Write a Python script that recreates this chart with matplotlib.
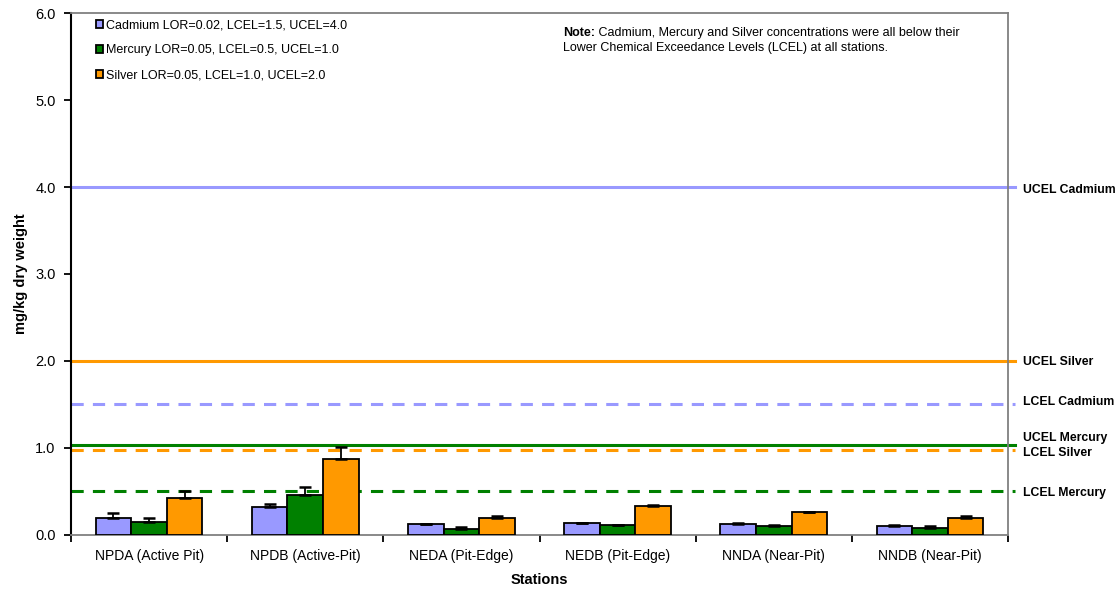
import matplotlib
matplotlib.use("Agg")
import matplotlib.pyplot as plt
import numpy as np

plt.rcParams['font.family'] = ['Liberation Sans', 'DejaVu Sans']

stations = ["NPDA (Active Pit)", "NPDB (Active-Pit)", "NEDA (Pit-Edge)",
            "NEDB (Pit-Edge)", "NNDA (Near-Pit)", "NNDB (Near-Pit)"]

cadmium = [0.20, 0.32, 0.125, 0.14, 0.13, 0.10]
cadmium_err = [0.05, 0.04, 0.0, 0.0, 0.01, 0.01]
mercury = [0.15, 0.46, 0.07, 0.11, 0.10, 0.085]
mercury_err = [0.05, 0.09, 0.02, 0.0, 0.01, 0.015]
silver = [0.43, 0.87, 0.20, 0.33, 0.26, 0.20]
silver_err = [0.08, 0.14, 0.02, 0.02, 0.0, 0.02]

series_labels = ["Cadmium LOR=0.02, LCEL=1.5, UCEL=4.0",
                 "Mercury LOR=0.05, LCEL=0.5, UCEL=1.0",
                 "Silver LOR=0.05, LCEL=1.0, UCEL=2.0"]
colors = ["#9999FF", "#008000", "#FF9900"]

# guideline values (as drawn), label text and label y position
level_names = ["UCEL Cadmium", "UCEL Silver", "LCEL Cadmium",
               "UCEL Mercury", "LCEL Silver", "LCEL Mercury"]
level_values = [4.0, 2.0, 1.5, 1.03, 0.98, 0.51]
level_label_y = [3.97, 1.99, 1.53, 1.11, 0.94, 0.48]
level_colors = ["#9999FF", "#FF9900", "#9999FF", "#008000", "#FF9900", "#008000"]
level_styles = ["-", "-", "--", "-", "--", "--"]

fig = plt.figure(figsize=(11.2, 5.97), dpi=100)
ax = fig.add_axes([0.0634, 0.1039, 0.8366, 0.8743])

x = np.arange(len(stations))
w = 0.228
data = [(cadmium, cadmium_err), (mercury, mercury_err), (silver, silver_err)]
for i, (vals, errs) in enumerate(data):
    pos = x + (i - 1) * w
    ax.bar(pos, vals, w, color=colors[i], edgecolor="black", linewidth=1.3,
           label=series_labels[i], zorder=3)
    ax.errorbar(pos, vals, yerr=[np.zeros(len(errs)), errs], fmt="none",
                ecolor="black", elinewidth=1.3, capsize=4, capthick=1.8, zorder=4)

for v, c, ls, name, ly in zip(level_values, level_colors, level_styles,
                              level_names, level_label_y):
    ax.axhline(v, xmin=0, xmax=1.007, color=c, ls=ls, lw=2.2,
               dashes=(4, 3) if ls == "--" else (None, None), clip_on=False, zorder=2)
    ax.text(1.016, ly, name, transform=ax.get_yaxis_transform(), fontsize=8.8,
            fontweight="bold", va="center", ha="left")

ax.set_xlim(-0.5, len(stations) - 0.5)
ax.set_ylim(0, 6)
ax.set_yticks(np.arange(0, 6.1, 1.0))
ax.set_yticklabels([f"{t:.1f}" for t in np.arange(0, 6.1, 1.0)], fontsize=10.5)
ax.set_xticks(x)
ax.set_xticklabels(stations, fontsize=10)
ax.set_xticks(np.arange(-0.5, len(stations), 1.0), minor=True)
ax.tick_params(axis="x", which="major", length=0, pad=10)
ax.tick_params(axis="x", which="minor", length=5, width=1.3, direction="out")
ax.tick_params(axis="y", length=5, width=1.3, direction="out", pad=6)

ax.spines["left"].set_color("black")
ax.spines["left"].set_linewidth(1.5)
ax.spines["bottom"].set_color("#808080")
ax.spines["bottom"].set_linewidth(1.3)
ax.spines["top"].set_color("#808080")
ax.spines["top"].set_linewidth(1.3)
ax.spines["right"].set_color("#808080")
ax.spines["right"].set_linewidth(1.3)

ax.set_ylabel("mg/kg dry weight", fontsize=10.5, fontweight="bold", labelpad=5)
ax.set_xlabel("Stations", fontsize=10.5, fontweight="bold", labelpad=7)

ax.legend(loc="upper left", bbox_to_anchor=(0.017, 1.005), frameon=False,
          fontsize=9, handlelength=0.6, handleheight=0.6, handletextpad=0.25,
          labelspacing=1.05, borderaxespad=0.3)

note = ax.text(0.525, 0.962, "Note:", transform=ax.transAxes, fontsize=9,
               fontweight="bold", va="center", ha="left")
ax.annotate(" Cadmium, Mercury and Silver concentrations were all below their",
            xy=(1, 0.5), xycoords=note, fontsize=9, va="center", ha="left")
ax.text(0.525, 0.933, "Lower Chemical Exceedance Levels (LCEL) at all stations.",
        transform=ax.transAxes, fontsize=9, va="center", ha="left")

fig.savefig("out.png", dpi=100)
